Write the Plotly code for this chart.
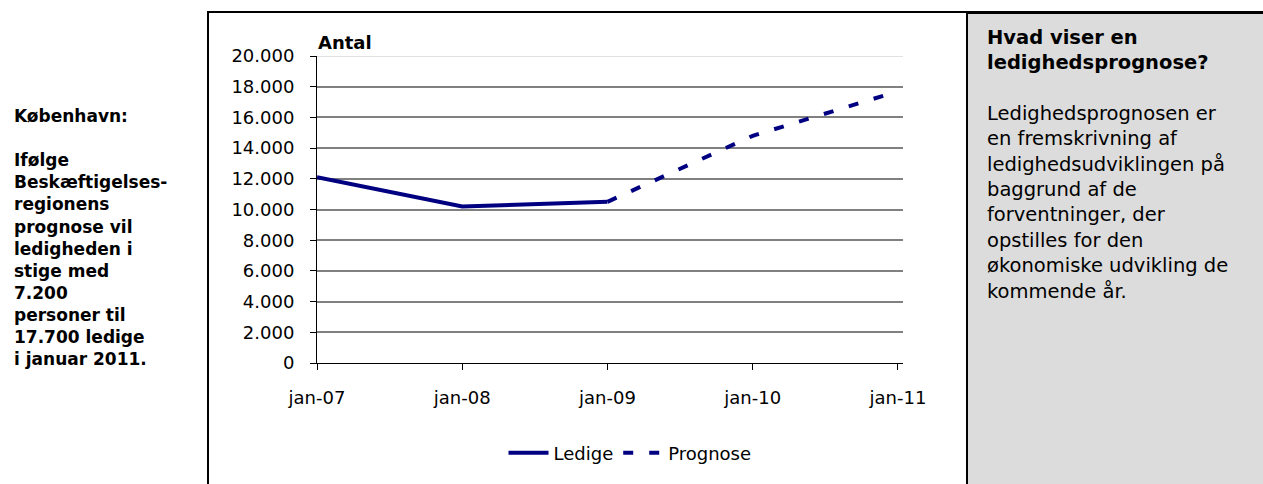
import plotly.graph_objects as go

categories = ["jan-07", "jan-08", "jan-09", "jan-10", "jan-11"]
ledige = [12100, 10200, 10500, None, None]
prognose = [None, None, 10500, 14800, 17700]
y_ticks = [0, 2000, 4000, 6000, 8000, 10000, 12000, 14000, 16000, 18000, 20000]

W, H = 1263, 484
FONT = "Verdana, DejaVu Sans, sans-serif"
NAVY = "#000080"


def px_x(p):
    """page pixel x -> paper fraction"""
    return p / W


def px_y(p):
    """page pixel y -> paper fraction"""
    return (H - p) / H


xpos = list(range(len(categories)))

fig = go.Figure()
fig.add_trace(go.Scatter(x=xpos, y=ledige, name="Ledige", mode="lines",
                         line=dict(color=NAVY, width=4), connectgaps=False))
fig.add_trace(go.Scatter(x=xpos, y=prognose, name="Prognose", mode="lines",
                         line=dict(color=NAVY, width=4, dash="10px,16px"), connectgaps=False))

left_text = ("<b>København:</b><br><br><b>Ifølge</b><br><b>Beskæftigelses-</b><br><b>regionens</b><br>"
             "<b>prognose vil</b><br><b>ledigheden i</b><br><b>stige med</b><br><b>7.200</b><br>"
             "<b>personer til</b><br><b>17.700 ledige</b><br><b>i januar 2011.</b>")
right_text = ("<b>Hvad viser en</b><br><b>ledighedsprognose?</b><br><br>Ledighedsprognosen er<br>"
              "en fremskrivning af<br>ledighedsudviklingen på<br>baggrund af de<br>forventninger, der<br>"
              "opstilles for den<br>økonomiske udvikling de<br>kommende år.")

shapes = [
    # grey info panel (fill only)
    dict(type="rect", xref="paper", yref="paper", x0=px_x(967), x1=1.05, y0=-0.1, y1=px_y(12),
         line=dict(width=0), fillcolor="#DCDCDC", layer="below"),
    # chart frame
    dict(type="rect", xref="paper", yref="paper", x0=px_x(208), x1=px_x(967), y0=-0.1, y1=px_y(12),
         line=dict(color="black", width=2), fillcolor="rgba(0,0,0,0)", layer="below"),
    # top border of the grey panel
    dict(type="line", xref="paper", yref="paper", x0=px_x(967), x1=1.05, y0=px_y(12.5), y1=px_y(12.5),
         line=dict(color="black", width=3), layer="below"),
    # light top gridline
    dict(type="line", xref="x domain", yref="y", x0=0, x1=1, y0=y_ticks[-1], y1=y_ticks[-1],
         line=dict(color="#D9D9D9", width=1.5), layer="below"),
]

annotations = [
    dict(text=left_text, xref="paper", yref="paper", x=px_x(12), y=px_y(104), xanchor="left", yanchor="top",
         align="left", showarrow=False, font=dict(family=FONT, size=17, color="black")),
    dict(text=right_text, xref="paper", yref="paper", x=px_x(985), y=px_y(24), xanchor="left", yanchor="top",
         align="left", showarrow=False, font=dict(family=FONT, size=19.5, color="black")),
    dict(text="<b>Antal</b>", xref="paper", yref="paper", x=px_x(316), y=px_y(42), xanchor="left", yanchor="middle",
         showarrow=False, font=dict(family=FONT, size=18, color="black")),
]

fig.update_layout(
    width=W, height=H,
    margin=dict(l=0, r=0, t=0, b=0, pad=0, autoexpand=False),
    paper_bgcolor="white", plot_bgcolor="rgba(0,0,0,0)",
    separators=",.",
    font=dict(family=FONT, size=18, color="black"),
    showlegend=True,
    legend=dict(orientation="h", x=px_x(630), xanchor="center", y=px_y(453), yanchor="middle",
                font=dict(family=FONT, size=18, color="black"), bgcolor="rgba(0,0,0,0)",
                itemwidth=40, tracegroupgap=0),
    shapes=shapes,
    annotations=annotations,
    xaxis=dict(domain=[px_x(317), px_x(903)], range=[0, 4.035], tickmode="array",
               tickvals=xpos, ticktext=categories, showgrid=False, zeroline=False,
               showline=True, linecolor="black", linewidth=1, ticks="outside", ticklen=6,
               tickcolor="black", ticklabelstandoff=12, tickfont=dict(size=18), automargin=False),
    yaxis=dict(domain=[px_y(363), px_y(56)], range=[0, 20000], tickmode="array", tickvals=y_ticks,
               tickformat=",d", showgrid=True, gridcolor="#808080", gridwidth=1.5, zeroline=False,
               showline=True, linecolor="black", linewidth=1, ticks="outside", ticklen=6,
               tickcolor="black", ticklabelstandoff=12, tickfont=dict(size=18), automargin=False),
)

fig.write_html(
    "out.html",
    config={"displayModeBar": False},
    post_script="document.body.style.margin='0';document.body.style.overflow='hidden';",
)
